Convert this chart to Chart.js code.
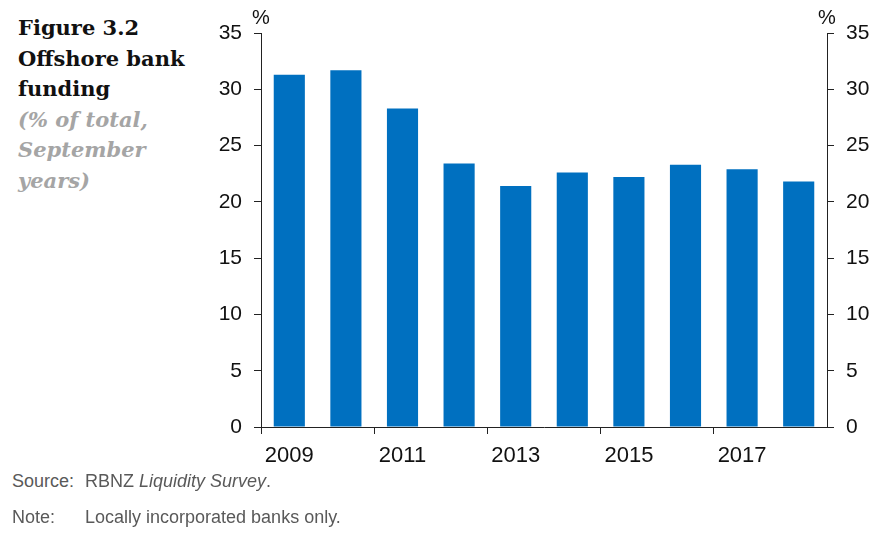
<!DOCTYPE html>
<html>
<head>
<meta charset="utf-8">
<script src="https://cdn.jsdelivr.net/npm/chart.js@4"></script>
<style>
  body { margin: 0; background: #fff; width: 879px; height: 534px; position: relative; overflow: hidden; }
  #title { position: absolute; left: 18px; top: 13px; font-family: "DejaVu Serif", serif; font-size: 21px; line-height: 30.5px; color: #111; }
  #title b { font-weight: bold; }
  #title i { color: #a5a5a5; font-weight: bold; }
  #wrap { position: absolute; left: 200px; top: 0; width: 679px; height: 475px; }
  .foot { position: absolute; left: 12px; font-family: "Liberation Sans", Arial, sans-serif; font-size: 18px; color: #595959; }
  .foot span { position: absolute; left: 73px; white-space: nowrap; }
</style>
</head>
<body>
<div id="title"><b>Figure 3.2<br>Offshore bank<br>funding</b><br><i>(% of total,<br>September<br>years)</i></div>
<div id="wrap"><canvas id="chart"></canvas></div>
<div class="foot" style="top:471px">Source:<span>RBNZ <i>Liquidity Survey</i>.</span></div>
<div class="foot" style="top:507px">Note:<span>Locally incorporated banks only.</span></div>
<script>
let years = ['2009', '2010', '2011', '2012', '2013', '2014', '2015', '2016', '2017', '2018'];
let funding = [31.3, 31.7, 28.3, 23.4, 21.4, 22.6, 22.2, 23.3, 22.9, 21.8];
let yTicks = [0, 5, 10, 15, 20, 25, 30, 35];

let yFont = { family: 'Liberation Sans', size: 21 };
let xFont = { family: 'Liberation Sans', size: 22 };
let axisColor = '#222';

// little "%" above each y axis
let percentLabels = {
  id: 'percentLabels',
  afterDraw(chart) {
    let ctx = chart.ctx;
    ctx.save();
    ctx.font = '20px "Liberation Sans"';
    ctx.fillStyle = '#111';
    ctx.textAlign = 'center';
    ctx.textBaseline = 'middle';
    ctx.fillText('%', chart.scales.y.right, 18);
    ctx.fillText('%', chart.scales.y2.left, 18);
    ctx.restore();
  }
};

let chart = new Chart(document.getElementById('chart').getContext('2d'), {
  type: 'bar',
  data: {
    labels: years,
    datasets: [{
      data: funding,
      backgroundColor: '#0070c0',
      categoryPercentage: 0.55,
      barPercentage: 1,
      yAxisID: 'y'
    }]
  },
  options: {
    responsive: true,
    maintainAspectRatio: false,
    animation: false,
    layout: { padding: { top: 33, left: 0, right: 0, bottom: 0 } },
    plugins: { legend: { display: false }, tooltip: { enabled: false } },
    scales: {
      x: {
        offset: true,
        grid: {
          offset: true,
          drawOnChartArea: false,
          tickLength: 7,
          tickColor: (c) => c.index % 2 === 0 ? axisColor : 'transparent'
        },
        border: { color: axisColor },
        ticks: {
          autoSkip: false,
          maxRotation: 0,
          padding: 9,
          color: '#111',
          font: xFont,
          callback: (v, i) => i % 2 === 0 ? years[i] : ''
        },
        afterFit: (s) => { s.height = 48; }
      },
      y: {
        position: 'left',
        min: 0, max: 35,
        afterBuildTicks: (s) => { s.ticks = yTicks.map(v => ({ value: v })); },
        grid: { drawOnChartArea: false, tickLength: 7, tickColor: axisColor },
        border: { color: axisColor },
        ticks: { padding: 12, color: '#111', font: yFont },
        afterFit: (s) => { s.width = 61; }
      },
      y2: {
        position: 'right',
        min: 0, max: 35,
        afterBuildTicks: (s) => { s.ticks = yTicks.map(v => ({ value: v })); },
        grid: { drawOnChartArea: false, tickLength: 7, tickColor: axisColor },
        border: { color: axisColor },
        ticks: { padding: 12, color: '#111', font: yFont },
        afterFit: (s) => { s.width = 52; }
      }
    }
  },
  plugins: [percentLabels]
});
</script>
</body>
</html>
